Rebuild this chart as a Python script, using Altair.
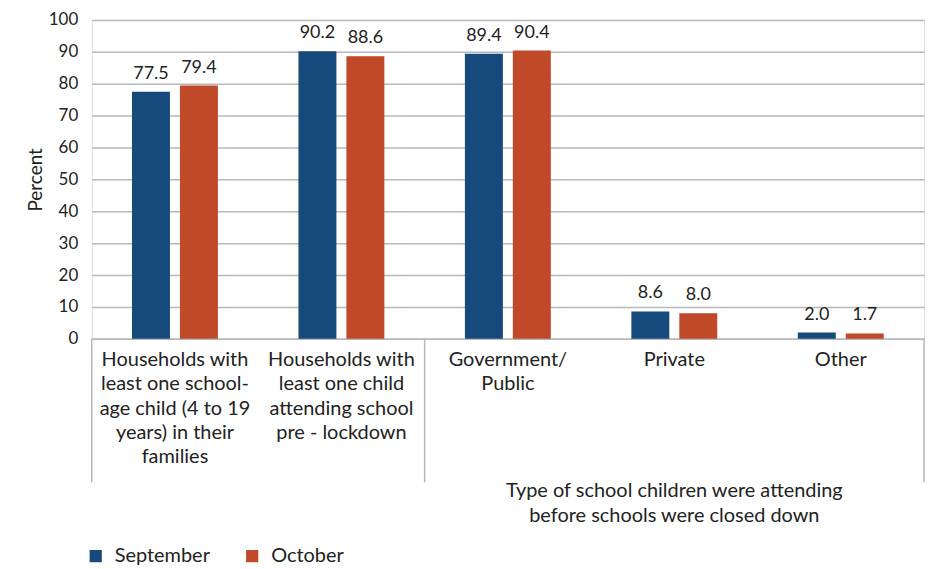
import altair as alt
import pandas as pd

cat_keys = ["c1", "c2", "c3", "c4", "c5"]
cat_labels = [
    "Households with\nleast one school-\nage child (4 to 19\nyears) in their\nfamilies",
    "Households with\nleast one child\nattending school\npre - lockdown",
    "Government/\nPublic",
    "Private",
    "Other",
]
series = ["September", "October"]
september = [77.5, 90.2, 89.4, 8.6, 2.0]
october = [79.4, 88.6, 90.4, 8.0, 1.7]
group_label = "Type of school children were attending\nbefore schools were closed down"
y_ticks = list(range(0, 101, 10))

colors = ["#174A7C", "#C0492A"]
FONT = "Lato"

rows = []
for k, s, o in zip(cat_keys, september, october):
    rows.append({"cat": k, "series": "September", "value": s, "lbl": f"{s:.1f}"})
    rows.append({"cat": k, "series": "October", "value": o, "lbl": f"{o:.1f}"})
df = pd.DataFrame(rows)
labels_df = pd.DataFrame({"cat": cat_keys, "label": cat_labels})
group_df = pd.DataFrame({"cat": ["c4"], "label": [group_label]})
sep_start = pd.DataFrame({"cat": ["c1", "c3"]})
sep_end = pd.DataFrame({"cat": ["c5"]})

W, H = 835, 320

xscale = alt.Scale(domain=cat_keys, paddingInner=0, paddingOuter=0)
xaxis = alt.Axis(labels=False, ticks=False, title=None, domainColor="#B7B7BC", domainWidth=1.5)
yaxis = alt.Axis(values=y_ticks, title="Percent", titleFontSize=19, titleFont=FONT,
                 titleFontWeight="normal", titleColor="#222", titlePadding=3,
                 labelFontSize=17, labelFont=FONT, labelColor="#222", labelPadding=14,
                 labelOverlap=False, domain=False, ticks=False, gridColor="#B7B7BC", gridWidth=1.5)
yscale = alt.Scale(domain=[0, 100], nice=False)
xenc = alt.X("cat:N", scale=xscale, axis=xaxis)
yenc = alt.Y("value:Q", scale=yscale, axis=yaxis)
xoff = alt.XOffset("series:N", scale=alt.Scale(domain=series, paddingInner=0.2083, paddingOuter=0.84))

bars = alt.Chart(df).mark_bar().encode(
    x=xenc, y=yenc, xOffset=xoff,
    color=alt.Color("series:N", scale=alt.Scale(domain=series, range=colors),
                    legend=alt.Legend(title=None, orient="none", legendX=-6, legendY=528,
                                      direction="horizontal", symbolType="square", symbolSize=150,
                                      symbolStrokeWidth=0, labelFontSize=20, labelFont=FONT,
                                      labelColor="#222", columnPadding=32, labelOffset=9)),
)

values = alt.Chart(df).mark_text(baseline="bottom", dy=-9, fontSize=18, font=FONT, color="#222").encode(
    x=xenc, xOffset=xoff, y=yenc, text="lbl:N"
)

cat_text = alt.Chart(labels_df).mark_text(baseline="top", fontSize=20, font=FONT, color="#222",
                                          lineBreak="\n", lineHeight=24.5).encode(
    x=xenc, y=alt.value(331), text="label:N"
)

group_text = alt.Chart(group_df).mark_text(baseline="top", fontSize=20, font=FONT, color="#222",
                                           lineBreak="\n", lineHeight=24.5).encode(
    x=xenc, y=alt.value(463), text="label:N"
)

rule1 = alt.Chart(sep_start).mark_rule(color="#B7B7BC", strokeWidth=1.5).encode(
    x=alt.X("cat:N", scale=xscale, axis=xaxis, bandPosition=0), y=alt.value(H), y2=alt.value(464)
)
rule2 = alt.Chart(sep_end).mark_rule(color="#B7B7BC", strokeWidth=1.5).encode(
    x=alt.X("cat:N", scale=xscale, axis=xaxis, bandPosition=1), y=alt.value(H), y2=alt.value(464)
)

chart = alt.layer(bars, values, cat_text, group_text, rule1, rule2).properties(
    width=W, height=H, padding={"left": 18, "top": 2, "right": 0, "bottom": 5}
).configure_view(stroke=None).configure(font=FONT)

chart.save("out.html", embed_options={"renderer": "svg", "actions": False})
